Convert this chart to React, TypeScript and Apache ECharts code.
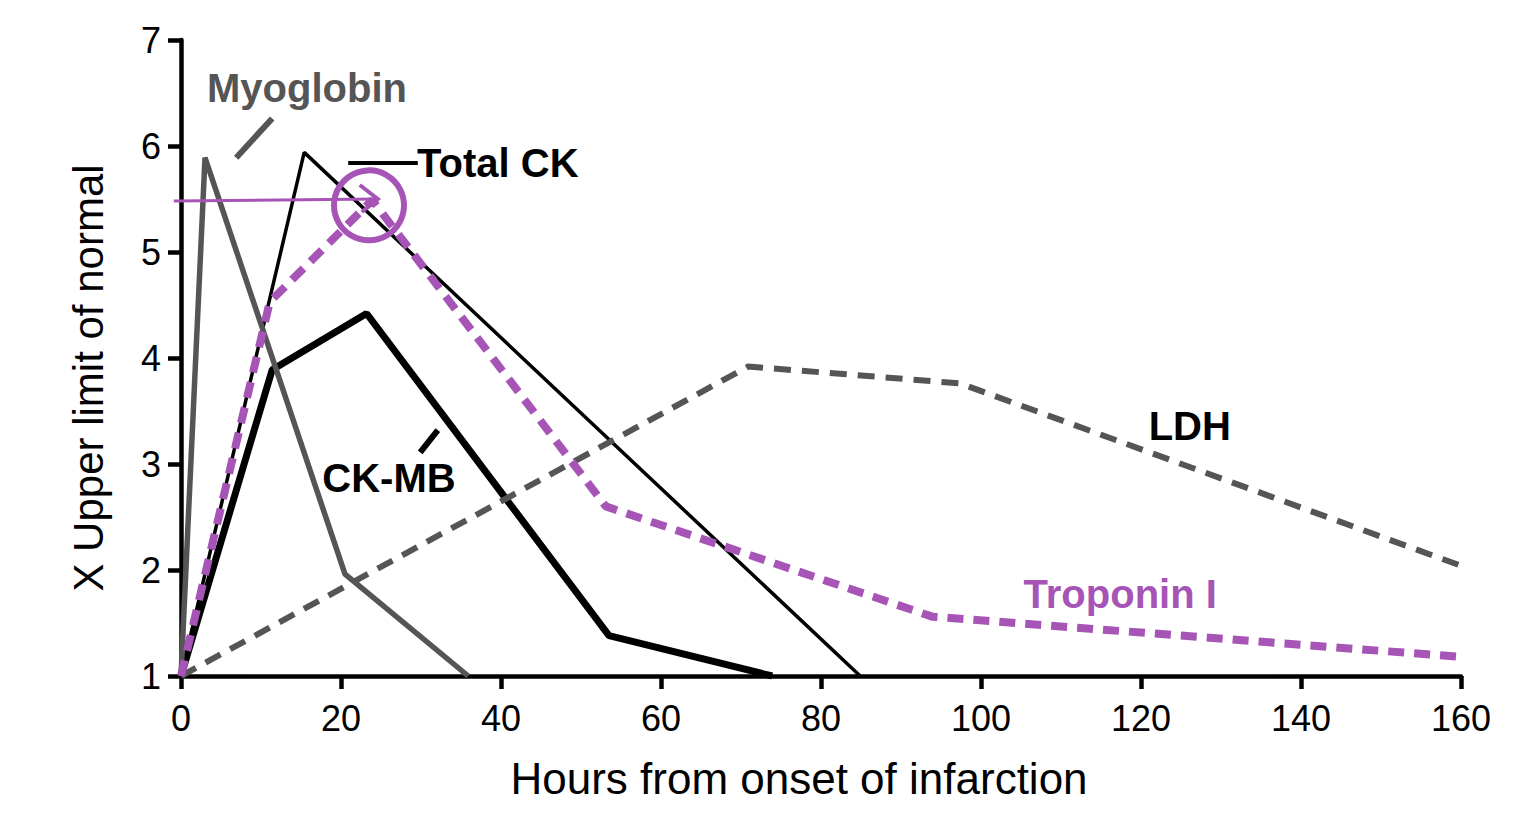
import React, { useEffect, useRef } from "react";
import * as echarts from "echarts";

// ---- Data (hours, multiples of upper limit of normal) ----
const xTickValues = [0, 20, 40, 60, 80, 100, 120, 140, 160];
const yTickValues = [1, 2, 3, 4, 5, 6, 7];

const myoglobin: [number, number][] = [[0, 1], [3, 5.89], [20.5, 1.96], [35.9, 1]];
const totalCK: [number, number][] = [[0, 1], [15.4, 5.94], [84.9, 1]];
const ckMB: [number, number][] = [[0, 1], [11.4, 3.89], [23.2, 4.42], [53.5, 1.38], [73.9, 1]];
const troponinI: [number, number][] = [[0, 1], [11.1, 4.53], [23.9, 5.49], [53.1, 2.6], [93.9, 1.56], [160, 1.18]];
const ldh: [number, number][] = [[0, 1], [70.9, 3.92], [97.4, 3.76], [160, 2.04]];

const GRAY = "#555555";
const BLACK = "#000000";
const PURPLE = "#a654b5";
const FONT = '"Liberation Sans", Arial, Helvetica, sans-serif';

export default function App() {
  const ref = useRef<HTMLDivElement>(null);

  useEffect(() => {
    if (!ref.current) return;
    const chart = echarts.init(ref.current, undefined, { renderer: "svg" });

    chart.setOption({
      animation: false,
      backgroundColor: "#ffffff",
      grid: { left: 181, right: 66, top: 40, bottom: 152 },
      xAxis: {
        type: "value",
        min: 0,
        max: 160,
        interval: 20,
        name: "Hours from onset of infarction",
        nameLocation: "middle",
        nameGap: 80,
        nameTextStyle: { color: BLACK, fontSize: 44, fontFamily: FONT, padding: [0, 44, 0, 0] },
        axisLine: { show: true, onZero: false, lineStyle: { color: BLACK, width: 4.5 } },
        axisTick: { show: true, length: 13, lineStyle: { color: BLACK, width: 4.5 } },
        axisLabel: {
          color: BLACK,
          fontSize: 36,
          fontFamily: FONT,
          margin: 24,
          formatter: (v: number) => (xTickValues.includes(v) ? String(v) : ""),
        },
        splitLine: { show: false },
      },
      yAxis: {
        type: "value",
        min: 1,
        max: 7,
        interval: 1,
        name: "X Upper limit of normal",
        nameLocation: "middle",
        nameGap: 72,
        nameTextStyle: { color: BLACK, fontSize: 42, fontFamily: FONT, padding: [0, 40, 0, 0] },
        axisLine: { show: true, onZero: false, lineStyle: { color: BLACK, width: 4.5 } },
        axisTick: { show: true, length: 13, lineStyle: { color: BLACK, width: 4.5 } },
        axisLabel: {
          color: BLACK,
          fontSize: 36,
          fontFamily: FONT,
          margin: 20,
          formatter: (v: number) => (yTickValues.includes(v) ? String(v) : ""),
        },
        splitLine: { show: false },
      },
      series: [
        {
          name: "Total CK",
          type: "line",
          data: totalCK,
          symbol: "none",
          lineStyle: { color: BLACK, width: 3.5 },
          z: 2,
        },
        {
          name: "CK-MB",
          type: "line",
          data: ckMB,
          symbol: "none",
          lineStyle: { color: BLACK, width: 7 },
          z: 3,
        },
        {
          name: "Myoglobin",
          type: "line",
          data: myoglobin,
          symbol: "none",
          lineStyle: { color: GRAY, width: 5.5 },
          z: 4,
        },
        {
          name: "LDH",
          type: "line",
          data: ldh,
          symbol: "none",
          lineStyle: { color: GRAY, width: 6, type: [17, 11] },
          z: 5,
        },
        {
          name: "Troponin I",
          type: "line",
          data: troponinI,
          symbol: "none",
          lineStyle: { color: PURPLE, width: 8, type: [16, 10] },
          z: 6,
        },
      ],
    });

    const px = (x: number, y: number) => chart.convertToPixel({ gridIndex: 0 }, [x, y]) as number[];

    const text = (label: string, x: number, y: number, color: string) => {
      const p = px(x, y);
      return {
        type: "text",
        x: p[0],
        y: p[1],
        z: 100,
        style: {
          text: label,
          fill: color,
          fontSize: 40,
          fontWeight: "bold",
          fontFamily: FONT,
          align: "center",
          verticalAlign: "middle",
          textAlign: "center",
          textVerticalAlign: "middle",
        },
      };
    };
    const seg = (a: [number, number], b: [number, number], color: string, w: number) => {
      const p = px(a[0], a[1]);
      const q = px(b[0], b[1]);
      return {
        type: "line",
        z: 100,
        shape: { x1: p[0], y1: p[1], x2: q[0], y2: q[1] },
        style: { stroke: color, lineWidth: w },
      };
    };

    const circleCenter = px(23.5, 5.44);
    const tip = px(24.6, 5.5);

    chart.setOption({
      graphic: [
        text("Myoglobin", 15.75, 6.55, GRAY),
        seg([6.9, 5.89], [11.4, 6.26], GRAY, 6),
        text("Total CK", 39.6, 5.84, BLACK),
        seg([20.9, 5.84], [29.6, 5.84], BLACK, 4),
        text("CK-MB", 26, 2.87, BLACK),
        seg([29.9, 3.11], [32.1, 3.32], BLACK, 6),
        text("LDH", 126.1, 3.36, BLACK),
        text("Troponin I", 117.4, 1.77, PURPLE),
        seg([-0.9, 5.48], [24.6, 5.5], PURPLE, 3),
        {
          type: "polyline",
          z: 100,
          shape: { points: [[tip[0] - 18, tip[1] - 14], [tip[0], tip[1]], [tip[0] - 16, tip[1] + 13]] },
          style: { stroke: PURPLE, lineWidth: 4, fill: "none" },
        },
        {
          type: "circle",
          z: 100,
          shape: { cx: circleCenter[0], cy: circleCenter[1], r: 35 },
          style: { fill: "none", stroke: PURPLE, lineWidth: 6 },
        },
      ],
    });

    return () => chart.dispose();
  }, []);

  return (
    <div
      ref={ref}
      style={{ position: "fixed", left: 0, top: 0, width: 1527, height: 828, background: "#fff" }}
    />
  );
}
